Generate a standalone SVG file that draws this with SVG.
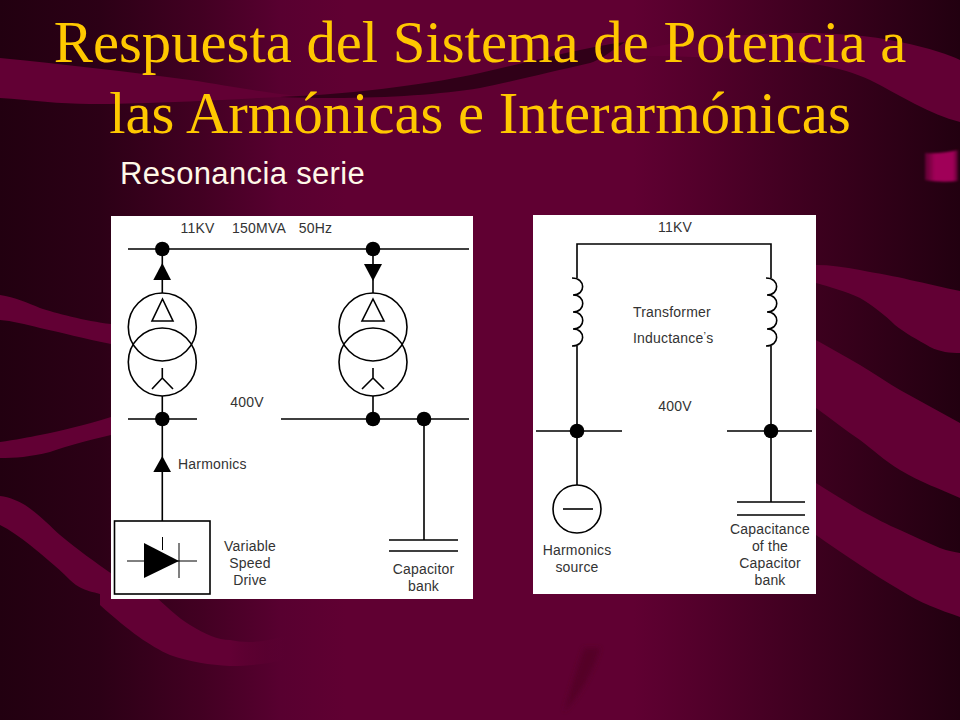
<svg xmlns="http://www.w3.org/2000/svg" width="960" height="720" viewBox="0 0 960 720">
<defs>
<linearGradient id="bg" x1="0" y1="0" x2="1" y2="0"><stop offset="0" stop-color="#220010"/><stop offset="0.104" stop-color="#2c0016"/><stop offset="0.208" stop-color="#420022"/><stop offset="0.292" stop-color="#580030"/><stop offset="0.36" stop-color="#600032"/><stop offset="0.66" stop-color="#600032"/><stop offset="0.85" stop-color="#3c001e"/><stop offset="1" stop-color="#220010"/></linearGradient>
<linearGradient id="tab" x1="0" y1="0" x2="1" y2="0"><stop offset="0" stop-color="#5a0030"/><stop offset="0.3" stop-color="#a00058"/><stop offset="0.85" stop-color="#a00058"/><stop offset="1" stop-color="#50002a"/></linearGradient>
<linearGradient id="tail" gradientUnits="userSpaceOnUse" x1="230" y1="0" x2="285" y2="0"><stop offset="0" stop-color="#620034"/><stop offset="1" stop-color="#620034" stop-opacity="0"/></linearGradient>
<filter id="soft" x="-20%" y="-20%" width="140%" height="140%"><feGaussianBlur stdDeviation="1.2"/></filter>
<filter id="softer" x="-50%" y="-20%" width="200%" height="140%"><feGaussianBlur stdDeviation="2.5"/></filter>
<style>
.w{stroke:#000;stroke-width:1.6;fill:none}
.c{stroke:#000;stroke-width:1.6;fill:none}
.d{fill:#000}
.l{font-family:"Liberation Sans",Arial,sans-serif;font-size:14px;letter-spacing:.2px;fill:#333;text-anchor:middle}
.s{text-anchor:start}
.t{font-family:"Liberation Serif","Times New Roman",serif;font-size:58.700px;fill:#ffc800;text-anchor:middle}
.band{fill:#620034}
</style>
</defs>
<g id="background">
<rect width="960" height="720" fill="url(#bg)"/>
<path class="band" d="M0 58C60 64 130 72 190 80C230 86 260 92 300 96C220 100 150 104 90 104C60 104 30 100 0 98Z"/>
<path d="M280 97C360 94 440 82 480 73C530 62 580 48 625 42C610 52 600 60 590 63C550 72 510 82 480 88C430 96 360 100 280 97Z" fill="#300018"/>
<path class="band" d="M640 50C700 35 820 25 900 42C930 48 950 55 960 60V122C930 115 900 95 870 80C840 66 800 60 760 60C720 58 680 56 640 56Z"/>
<path class="band" d="M0 295C15 297 28 303 40 308C55 313 85 321 111 324V344C85 339 60 332 40 328C25 324 12 321 0 320Z"/>
<path class="band" d="M0 442C15 440 30 437 40 435C60 431 85 425 111 417V435C85 441 70 445 50 452C30 457 15 458 0 458Z"/>
<path class="band" d="M0 496C10 497 18 501 25 505C40 515 50 526 60 535C78 550 95 562 112 574V600H112C100 590 85 595 70 580C55 565 42 555 30 545C20 537 10 530 0 525Z"/>
<path fill="url(#tail)" d="M100 590L148 590C165 605 178 618 190 625C205 634 218 640 230 640C245 643 262 643 285 636V660C265 664 250 666 230 666C210 665 190 662 170 655C150 646 130 632 100 605Z"/>
<path class="band" d="M816 265C830 265 845 267 860 270C880 274 895 276 910 280C925 283 945 288 960 291V353C950 353 940 352 930 347C918 340 905 333 895 325C885 315 872 305 860 298C845 291 830 287 816 283Z"/>
<path class="band" d="M816 340C830 348 845 356 860 365C875 374 888 383 900 390C920 401 940 412 960 423V498C940 489 920 482 900 470C885 461 872 449 860 440C845 430 830 418 816 408Z"/>
<path class="band" d="M816 483C830 492 845 501 860 510C875 518 888 525 900 530C915 537 928 543 940 548C948 551 955 552 960 553V617C940 610 920 603 900 590C885 581 872 573 860 565C845 555 830 545 816 535Z"/>
<path d="M600 648C594 670 580 695 564 712C570 690 578 665 584 648Z" fill="#540028" filter="url(#softer)"/>
<path d="M925 153C936 154 948 152 958 150V181C948 182 936 182 925 180Z" fill="url(#tab)" filter="url(#soft)"/>
</g>
<g id="title">
<text class="t" x="480" y="62">Respuesta del Sistema de Potencia a</text>
<text class="t" x="480" y="133">las Armónicas e Interarmónicas</text>
<text x="120" y="184" font-family="'Liberation Sans',Arial,sans-serif" font-size="31" letter-spacing=".35" fill="#fff8e8">Resonancia serie</text>
</g>
<g id="panel-left">
<rect x="111" y="216" width="362" height="383" fill="#fff"/>
</g>
<g id="panel-right">
<rect x="533" y="215" width="283" height="379" fill="#fff"/>
</g>
<g id="connectors">
<path class="c" d="M128 249H469M128 419H197M281 419H469"/>
<path class="c" d="M162.300 249V293M373 249V293M162.300 396V521M373 396V419M424 419V540"/>
<path class="c" d="M577 278V244H771V278M577 346V485M771 346V502"/>
<path class="c" d="M536 431H622M727 431H812"/>
</g>
<g id="bus-labels">
<text class="l" x="197.500" y="233">11KV</text>
<text class="l" x="259" y="233">150MVA</text>
<text class="l" x="315.500" y="233">50Hz</text>
<text class="l" x="247" y="407">400V</text>
<text class="l" x="675" y="232">11KV</text>
<text class="l" x="675" y="411">400V</text>
</g>
<g id="junctions">
<circle class="d" cx="162.300" cy="249" r="7.300"/><circle class="d" cx="373" cy="249" r="7.300"/>
<circle class="d" cx="162.300" cy="419" r="7.300"/><circle class="d" cx="373" cy="419" r="7.300"/><circle class="d" cx="424" cy="419" r="7.300"/>
<circle class="d" cx="577" cy="431" r="7.300"/><circle class="d" cx="771" cy="431" r="7.300"/>
</g>
<g id="transformer-left">
<path class="d" d="M162.300 263L171 280H153.300Z"/>
<circle class="w" cx="162.300" cy="327" r="34"/><circle class="w" cx="162.300" cy="362" r="34"/>
<path class="w" d="M162.500 299L173 321H152Z"/>
<path class="w" d="M162.300 368V378L152 389M162.300 378L173 389"/>
</g>
<g id="transformer-right">
<path class="d" d="M364 264H382L373 281Z"/>
<circle class="w" cx="373" cy="327" r="34"/><circle class="w" cx="373" cy="362" r="34"/>
<path class="w" d="M373 299L384 321H362Z"/>
<path class="w" d="M373 368V378L362 389M373 378L384 389"/>
</g>
<g id="harmonics-arrow">
<path class="d" d="M162.300 456L171 472H153.300Z"/>
<text class="l s" x="178" y="469">Harmonics</text>
</g>
<g id="drive">
<rect class="w" x="114.500" y="521" width="95.500" height="73"/>
<path class="d" d="M144 543L179 561L144 578Z"/>
<path d="M127 561H197M162.500 537V550M179 543V578" stroke="#000" stroke-width="1" fill="none"/>
<text class="l" x="250" y="551">Variable</text><text class="l" x="250" y="568">Speed</text><text class="l" x="250" y="585">Drive</text>
</g>
<g id="capacitor-left">
<path class="w" d="M389 540H458M389 551H458"/>
<text class="l" x="423.500" y="574">Capacitor</text><text class="l" x="423.500" y="591">bank</text>
</g>
<g id="inductor-left">
<path class="w" d="M572 278C586 278 586 295 573 295C586 295 586 312 573 312C586 312 586 329 573 329C586 329 586 346 572 346"/>
</g>
<g id="inductor-right">
<path class="w" d="M766 278C780 278 780 295 767 295C780 295 780 312 767 312C780 312 780 329 767 329C780 329 780 346 766 346"/>
</g>
<g id="inductance-label">
<text class="l s" x="633" y="317">Transformer</text>
<text class="l s" x="633" y="343">Inductance<tspan dy="-3" font-size="11">’</tspan><tspan dy="3">s</tspan></text>
</g>
<g id="source">
<circle class="w" cx="577" cy="509" r="24"/>
<path class="w" d="M563 509H593"/>
<text class="l" x="577" y="555">Harmonics</text><text class="l" x="577" y="572">source</text>
</g>
<g id="capacitor-right">
<path class="w" d="M737 502H805M737 515H805"/>
<text class="l" x="770" y="534">Capacitance</text><text class="l" x="770" y="551">of the</text><text class="l" x="770" y="568">Capacitor</text><text class="l" x="770" y="585">bank</text>
</g>
</svg>
